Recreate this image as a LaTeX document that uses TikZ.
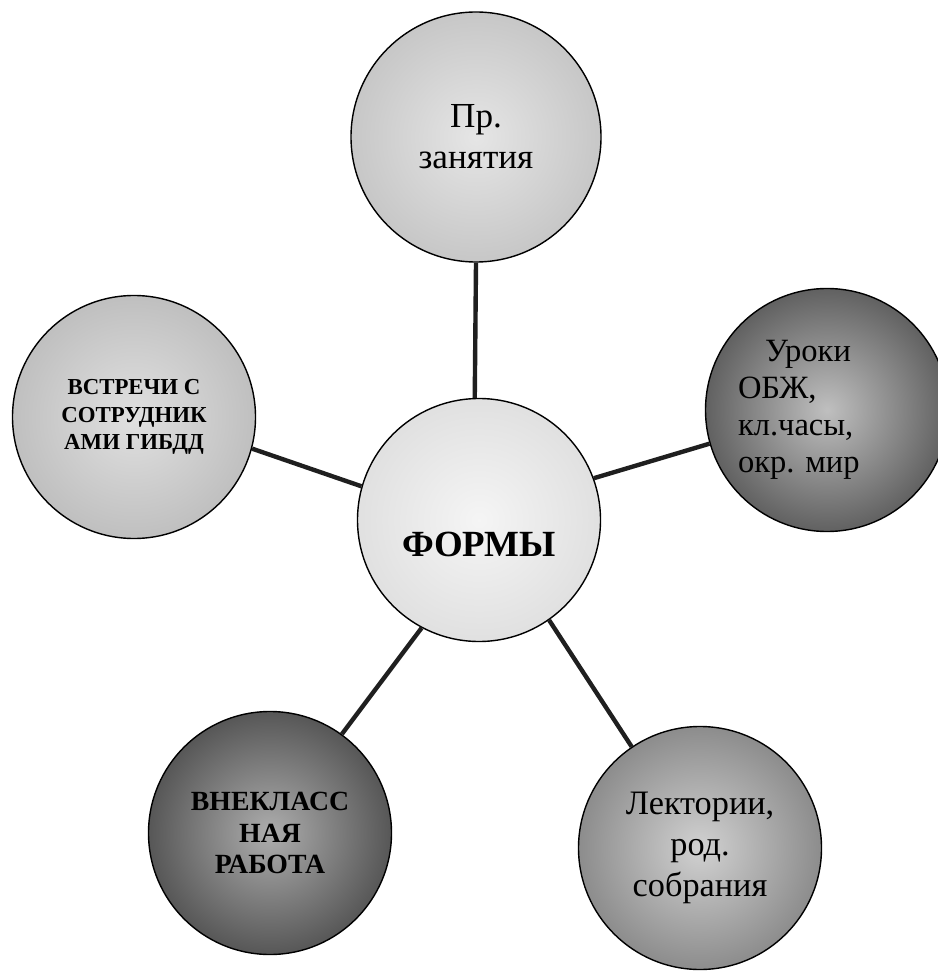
\documentclass[tikz,border=0pt]{standalone}
\usepackage{fontspec}
\setmainfont{Liberation Serif}
\frenchspacing
\usetikzlibrary{positioning}

\begin{document}
\begin{tikzpicture}[every node/.style={circle,draw,line width=0.8pt,minimum size=4.86cm,inner sep=0pt,align=center},
	spoke/.style={line width=2.5pt,black!88}]

	\useasboundingbox (0,0) rectangle (18.74,-19.44);

	\node[inner color=black!4, outer color=black!12, font=\bfseries\fontsize{21}{25}\selectfont, text height=1.44cm, text depth=0pt] (F) at (9.58,-10.40) {ФОРМЫ};
	\node[inner color=black!10, outer color=black!22, font=\fontsize{20}{23.3}\selectfont, minimum size=5cm] (P) at (9.52,-2.74) {
		Пр.\\
		занятия
	};
	\node[inner color=black!12, outer color=black!25, font=\bfseries\fontsize{13}{15.5}\selectfont] (V) at (2.68,-8.34) {
		ВСТРЕЧИ С\\
		СОТРУДНИК\\
		АМИ ГИБДД
	};
	\node[inner color=black!25, outer color=black!62, font=\fontsize{18.5}{21}\selectfont, align=left, text width=3.56cm] (U) at (16.54,-8.20) {
		\hspace*{0.54cm}Уроки\\
		ОБЖ,\\
		кл.часы,\\
		окр. мир
	};
	\node[inner color=black!32, outer color=black!66, font=\bfseries\fontsize{15.8}{18}\selectfont] (W) at (5.40,-16.66) {
		ВНЕКЛАСС\\
		НАЯ\\
		РАБОТА
	};
	\node[inner color=black!18, outer color=black!45, font=\fontsize{19.5}{23.3}\selectfont] (L) at (14.00,-16.96) {
		Лектории,\\
		род.\\
		собрания
	};

	\draw[spoke] (F.92) -- (P.-90);
	\draw[spoke] (F.164) -- (V.-15);
	\draw[spoke] (F.20) -- (U.-164);
	\draw[spoke] (F.-118) -- (W.54);
	\draw[spoke] (F.-55) -- (L.124);
\end{tikzpicture}
\end{document}
